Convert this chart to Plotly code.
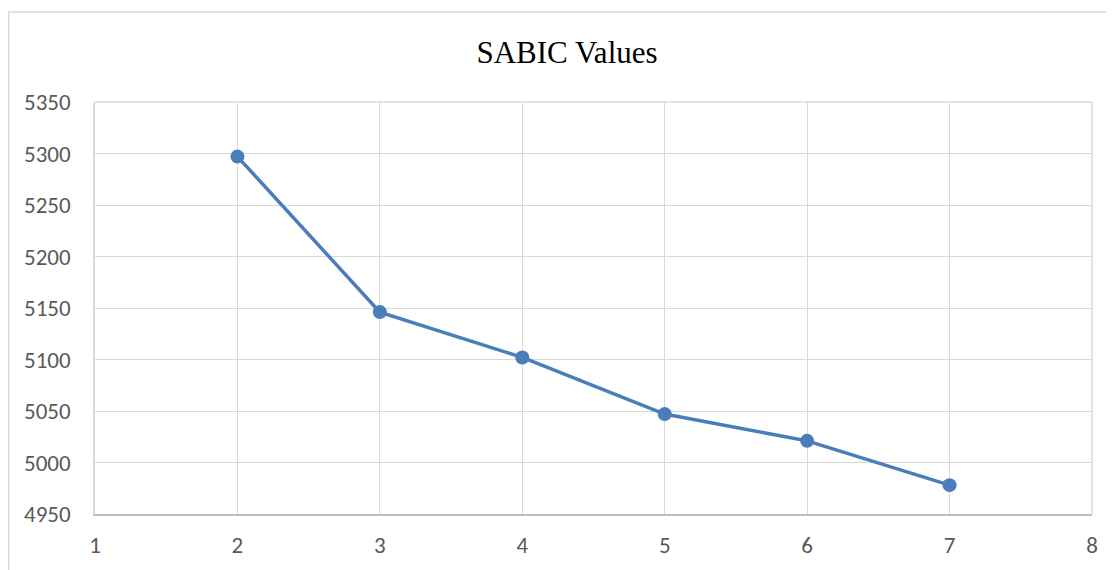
import plotly.graph_objects as go

clusters = [2, 3, 4, 5, 6, 7]
sabic = [5297, 5146, 5102, 5047, 5021, 4978]
x_ticks = [1, 2, 3, 4, 5, 6, 7, 8]
y_ticks = [4950, 5000, 5050, 5100, 5150, 5200, 5250, 5300, 5350]

# page has an 8px body margin, so the figure is sized to fit the window
W, H = 1106, 562
L, R, T, B = 87, 22, 94, 56
pw, ph = W - L - R, H - T - B

fig = go.Figure()
fig.add_trace(go.Scatter(
    x=clusters, y=sabic, mode="lines+markers",
    line=dict(color="#4a7ebb", width=3.5),
    marker=dict(color="#4a7ebb", size=14),
    showlegend=False, hoverinfo="skip",
))

tick_font = dict(family="Calibri, Carlito, 'Open Sans', sans-serif", size=23, color="#595959")

fig.update_layout(
    width=W, height=H,
    margin=dict(l=L, r=R, t=T, b=B, autoexpand=False),
    paper_bgcolor="white", plot_bgcolor="white",
    title=dict(text="SABIC Values", x=(559 - L) / pw, xanchor="center", xref="paper",
               y=1 - 44 / H, yref="container", yanchor="middle",
               font=dict(family="'Times New Roman', 'Liberation Serif', serif", size=31, color="#000000")),
    xaxis=dict(range=[1, 8], tickvals=x_ticks, showgrid=True, gridcolor="#d9d9d9", gridwidth=1,
               showline=True, linecolor="#bfbfbf", linewidth=1.5, zeroline=False, automargin=False,
               ticks="", tickfont=tick_font, ticklabelstandoff=10, mirror=False),
    yaxis=dict(range=[4950, 5350], tickvals=y_ticks, showgrid=True, gridcolor="#d9d9d9", gridwidth=1,
               showline=True, linecolor="#d9d9d9", linewidth=1.5, zeroline=False, automargin=False,
               ticks="", tickfont=tick_font, ticklabelstandoff=18),
)

# outer chart border (top and left visible, rest cut off by image edge)
x0 = (0.75 - L) / pw
y1 = (H - B - 4) / ph
fig.add_shape(type="rect", xref="paper", yref="paper",
              x0=x0, x1=1.2, y0=-0.5, y1=y1,
              line=dict(color="#d9d9d9", width=1.5), fillcolor="rgba(0,0,0,0)", layer="below")
# top and right plot-edge grid lines
fig.add_shape(type="line", xref="paper", yref="paper", x0=0, x1=1, y0=1, y1=1,
              line=dict(color="#d9d9d9", width=1.5), layer="below")
fig.add_shape(type="line", xref="paper", yref="paper", x0=1, x1=1, y0=0, y1=1,
              line=dict(color="#d9d9d9", width=1.5), layer="below")

fig.write_html("out.html")
